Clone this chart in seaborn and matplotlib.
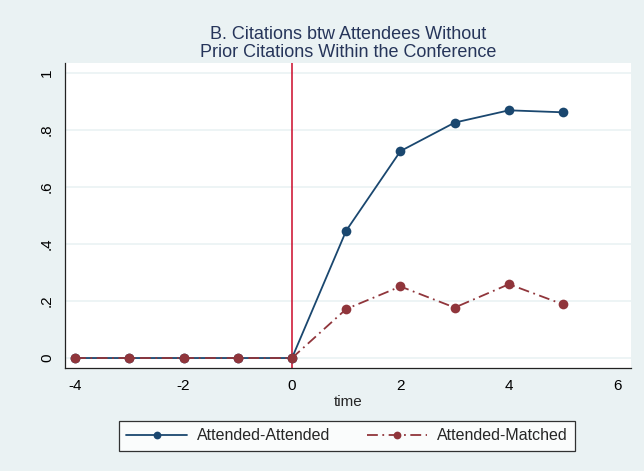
import matplotlib
matplotlib.use("Agg")
import matplotlib.pyplot as plt
import seaborn as sns
import pandas as pd

time = [-4, -3, -2, -1, 0, 1, 2, 3, 4, 5]
attended_attended = [0, 0, 0, 0, 0, 0.447, 0.726, 0.826, 0.869, 0.862]
attended_matched = [0, 0, 0, 0, 0, 0.172, 0.251, 0.177, 0.259, 0.188]
series_names = ["Attended-Attended", "Attended-Matched"]
x_ticks = [-4, -2, 0, 2, 4, 6]
y_ticks = [0, 0.2, 0.4, 0.6, 0.8, 1]
y_tick_labels = ["0", ".2", ".4", ".6", ".8", "1"]
title = "B. Citations btw Attendees Without\nPrior Citations Within the Conference"

bg = "#eaf2f3"
navy = "#1a476f"
maroon = "#90353b"
title_color = "#26355a"

sns.set_style("white")
plt.rcParams["font.family"] = ["Liberation Sans", "DejaVu Sans"]

df = pd.DataFrame({
    "time": time * 2,
    "value": attended_attended + attended_matched,
    "series": [series_names[0]] * len(time) + [series_names[1]] * len(time),
})

fig = plt.figure(figsize=(6.44, 4.71), dpi=100, facecolor=bg)
ax = fig.add_axes([65 / 644, 1 - 368 / 471, (631 - 65) / 644, (368 - 63) / 471])
ax.set_facecolor("white")

for y in y_ticks:
    ax.axhline(y, color=bg, lw=1.2, zorder=0)

ax.axvline(0, color="#cc0a2a", lw=1.1, zorder=1)

sns.lineplot(
    data=df, x="time", y="value", hue="series", style="series",
    palette={series_names[0]: navy, series_names[1]: maroon},
    dashes={series_names[0]: "", series_names[1]: (6, 2.5, 1, 2.5)},
    markers={series_names[0]: "o", series_names[1]: "o"},
    markersize=7, markeredgewidth=0, lw=1.3, ax=ax, zorder=3,
)

ax.set_xlim(-4.185, 6.25)
ax.set_ylim(-0.035, 1.035)
ax.set_xticks(x_ticks)
ax.set_xticklabels([str(t) for t in x_ticks], fontsize=11)
ax.set_yticks(y_ticks)
ax.set_yticklabels(y_tick_labels, fontsize=11, rotation=90, va="center")
ax.tick_params(axis="both", direction="out", length=5, width=0.9, color="#222222",
               labelcolor="black", pad=3)
ax.tick_params(axis="y", pad=3)

for side in ["top", "right"]:
    ax.spines[side].set_visible(False)
for side in ["left", "bottom"]:
    ax.spines[side].set_color("#222222")
    ax.spines[side].set_linewidth(0.9)

ax.set_xlabel("time", fontsize=11, labelpad=1)
ax.set_ylabel("")
ax.set_title(title, fontsize=13, color=title_color, pad=4, linespacing=1.1)

handles, labels = ax.get_legend_handles_labels()
ax.legend_.remove()
leg = fig.legend(handles, labels, loc="center", bbox_to_anchor=(347 / 644, 1 - 436 / 471),
                 ncol=2, fontsize=11.5, frameon=True, fancybox=False,
                 edgecolor="black", handlelength=3.8, columnspacing=2.3,
                 borderpad=0.45, handletextpad=0.6, markerscale=0.8)
leg.get_frame().set_linewidth(0.9)

fig.savefig("out.png", dpi=100, facecolor=bg)
